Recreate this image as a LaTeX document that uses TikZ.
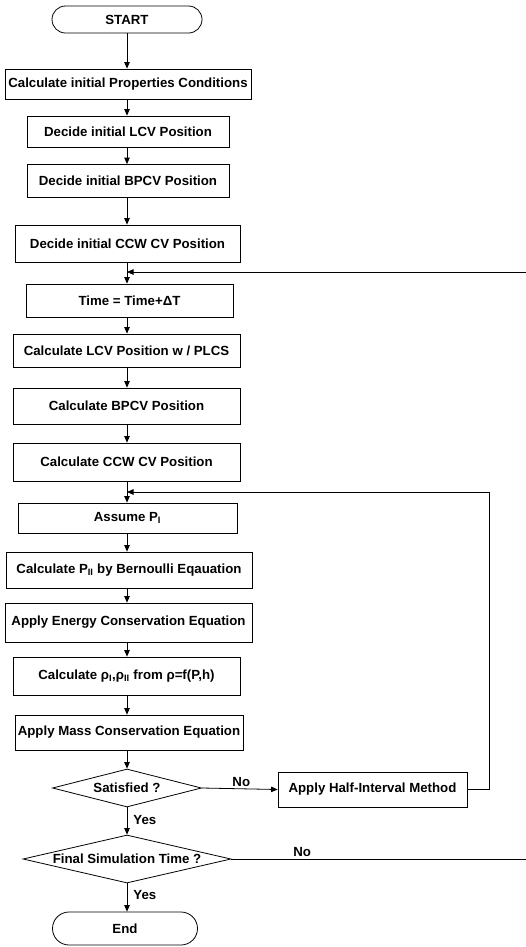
\documentclass[tikz,border=0pt]{standalone}
\usepackage{fontspec}
\setmainfont{Liberation Sans}
\usetikzlibrary{arrows.meta,shapes.geometric}
\begin{document}
\begin{tikzpicture}[x=1bp,y=-1bp,
  font=\fontsize{13.3}{15}\selectfont\bfseries,
  line width=0.8pt,
  box/.style 2 args={draw, rectangle, inner sep=0pt, minimum width=#1bp, minimum height=#2bp},
  term/.style 2 args={draw, rectangle, rounded corners=#2*0.5bp, inner sep=0pt, minimum width=#1bp, minimum height=#2bp},
  decision/.style n args={3}{draw, diamond, inner sep=0pt, minimum width=#1bp, minimum height=#2bp, label={center:#3}},
  arr/.style={-{Triangle[length=6.5bp,width=5.5bp]}},
  lbl/.style={inner sep=1pt}
]
\useasboundingbox (0,0) rectangle (526,947);
\node[term={150}{27}] (start) at (127,19.5) {START};
\node[box={246}{30}] (props) at (128,84) {Calculate initial Properties Conditions};
\node[box={202}{31}] (lcv0) at (128,131.5) {Decide initial LCV Position};
\node[box={202}{33}] (bpcv0) at (128,181) {Decide initial BPCV Position};
\node[box={225}{37}] (ccw0) at (127.5,243.5) {Decide initial CCW CV Position};
\node[box={207}{33}] (time) at (129.5,300.5) {Time = Time+ΔT};
\node[box={227}{33}] (lcv) at (126.5,350.5) {Calculate LCV Position w / PLCS};
\node[box={227}{36}] (bpcv) at (126.5,406) {Calculate BPCV Position};
\node[box={227}{38}] (ccw) at (126.5,462) {Calculate CCW CV Position};
\node[box={219}{30}] (assume) at (127.5,518) {Assume P\textsubscript{I}};
\node[box={246}{36}] (bern) at (129,570) {Calculate P\textsubscript{II} by Bernoulli Eqauation};
\node[box={247}{39}] (energy) at (128.5,622.5) {Apply Energy Conservation Equation};
\node[box={227}{38}] (rho) at (126.5,676) {Calculate ρ\textsubscript{I},ρ\textsubscript{II} from ρ=f(P,h)};
\node[box={228}{35}] (mass) at (129,732.5) {Apply Mass Conservation Equation};
\node[decision={149}{38}{Satisfied ?}] (sat) at (127,788) {};
\node[decision={208}{48}{Final Simulation Time ?}] (fin) at (127,859) {};
\node[term={145}{33}] (end) at (125,928.5) {End};
\node[box={189}{35}] (half) at (372.5,789.5) {Apply Half-Interval Method};

\coordinate (j1) at (127,272);
\coordinate (e1) at (526,272);
\coordinate (j2) at (127,492);
\coordinate (c2) at (489,492);
\coordinate (e2) at (526,859);

\draw[arr] (start.south) -- (start.south |- props.north);
\draw[arr] (props.south -| start.south) -- (start.south |- lcv0.north);
\draw[arr] (lcv0.south -| start.south) -- (start.south |- bpcv0.north);
\draw[arr] (bpcv0.south -| start.south) -- (start.south |- ccw0.north);
\draw[arr] (ccw0.south -| start.south) -- (start.south |- time.north);
\draw[arr] (e1) -- (j1);
\draw[arr] (time.south -| start.south) -- (start.south |- lcv.north);
\draw[arr] (lcv.south -| start.south) -- (start.south |- bpcv.north);
\draw[arr] (bpcv.south -| start.south) -- (start.south |- ccw.north);
\draw[arr] (ccw.south -| start.south) -- (start.south |- assume.north);
\draw[arr] (half.east) -| (c2) -- (j2);
\draw[arr] (assume.south -| start.south) -- (start.south |- bern.north);
\draw[arr] (bern.south -| start.south) -- (start.south |- energy.north);
\draw[arr] (energy.south -| start.south) -- (start.south |- rho.north);
\draw[arr] (rho.south -| start.south) -- (start.south |- mass.north);
\draw[arr] (mass.south -| sat.north) -- (sat.north);
\draw[arr] (sat.south) -- node[lbl, right=5bp, pos=0.45] {Yes} (fin.north);
\draw[arr] (fin.south) -- node[lbl, right=5bp, pos=0.4] {Yes} (end.north -| fin.south);
\draw[arr] (sat.east) -- node[lbl, above=1bp, pos=0.52] {No} (half.west);
\draw (fin.east) -- node[lbl, above=1bp, pos=0.24] {No} (e2);
\end{tikzpicture}
\end{document}
